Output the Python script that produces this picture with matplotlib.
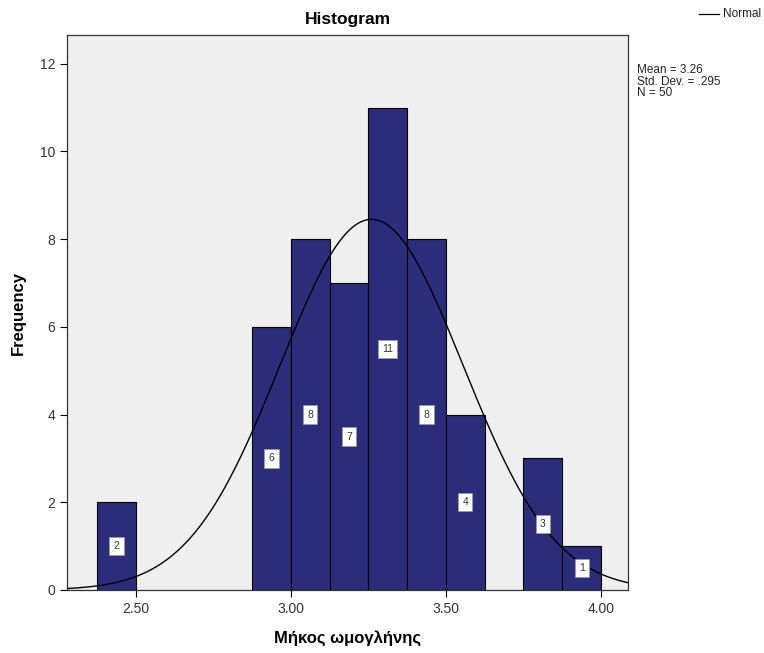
import numpy as np
import matplotlib.pyplot as plt
from matplotlib.lines import Line2D

# histogram data (bin edges of width 0.125)
bin_left = [2.375, 2.875, 3.000, 3.125, 3.250, 3.375, 3.500, 3.750, 3.875]
counts = [2, 6, 8, 7, 11, 8, 4, 3, 1]
bin_width = 0.125
mean, std, n = 3.26, 0.295, 50
x_ticks = [2.50, 3.00, 3.50, 4.00]
y_ticks = [0, 2, 4, 6, 8, 10, 12]

plt.rcParams['font.family'] = ['Liberation Sans', 'DejaVu Sans']

fig = plt.figure(figsize=(7.64, 6.53), dpi=100)
ax = fig.add_axes([0.0877, 0.0965, 0.7343, 0.8495])
ax.set_facecolor('#efefef')

ax.bar(bin_left, counts, width=bin_width, align='edge', color='#2b2d7a',
       edgecolor='black', linewidth=0.8, zorder=2)

# count labels inside bars
for left, c in zip(bin_left, counts):
    ax.text(left + bin_width / 2, c / 2, str(c), ha='center', va='center',
            fontsize=7.5, color='#333333', zorder=4,
            bbox=dict(boxstyle='square,pad=0.4', fc='white', ec='#999999', lw=0.5))

# normal curve
xlim = (2.278, 4.087)
xs = np.linspace(xlim[0], xlim[1], 400)
ys = n * bin_width / (std * np.sqrt(2 * np.pi)) * np.exp(-0.5 * ((xs - mean) / std) ** 2)
ax.plot(xs, ys, color='black', linewidth=1.0, zorder=3)

ax.set_xlim(xlim)
ax.set_ylim(0, 12.65)
ax.set_xticks(x_ticks)
ax.set_xticklabels([f'{t:.2f}' for t in x_ticks])
ax.set_yticks(y_ticks)
ax.tick_params(axis='both', direction='out', length=5, width=0.8, labelsize=10,
               labelcolor='#333333', top=False, right=False)
for s in ax.spines.values():
    s.set_linewidth(0.9)
    s.set_color('#333333')

ax.set_title('Histogram', fontsize=12.5, fontweight='bold', pad=8)
ax.set_xlabel('Μήκος ωμογλήνης', fontsize=12, fontweight='bold', labelpad=10)
ax.set_ylabel('Frequency', fontsize=12, fontweight='bold', labelpad=10)

# legend and stats at the right
fig.add_artist(Line2D([699 / 764, 719 / 764], [1 - 14 / 653, 1 - 14 / 653],
                      color='black', linewidth=0.9))
fig.text(761 / 764, 1 - 14 / 653, 'Normal', fontsize=8.5, va='center', ha='right',
         color='#222222')
fig.text(637 / 764, 1 - 64 / 653, 'Mean = 3.26\nStd. Dev. = .295\nN = 50',
         fontsize=8.5, va='top', ha='left', linespacing=0.95, color='#222222')

fig.savefig('out.png', dpi=100)
